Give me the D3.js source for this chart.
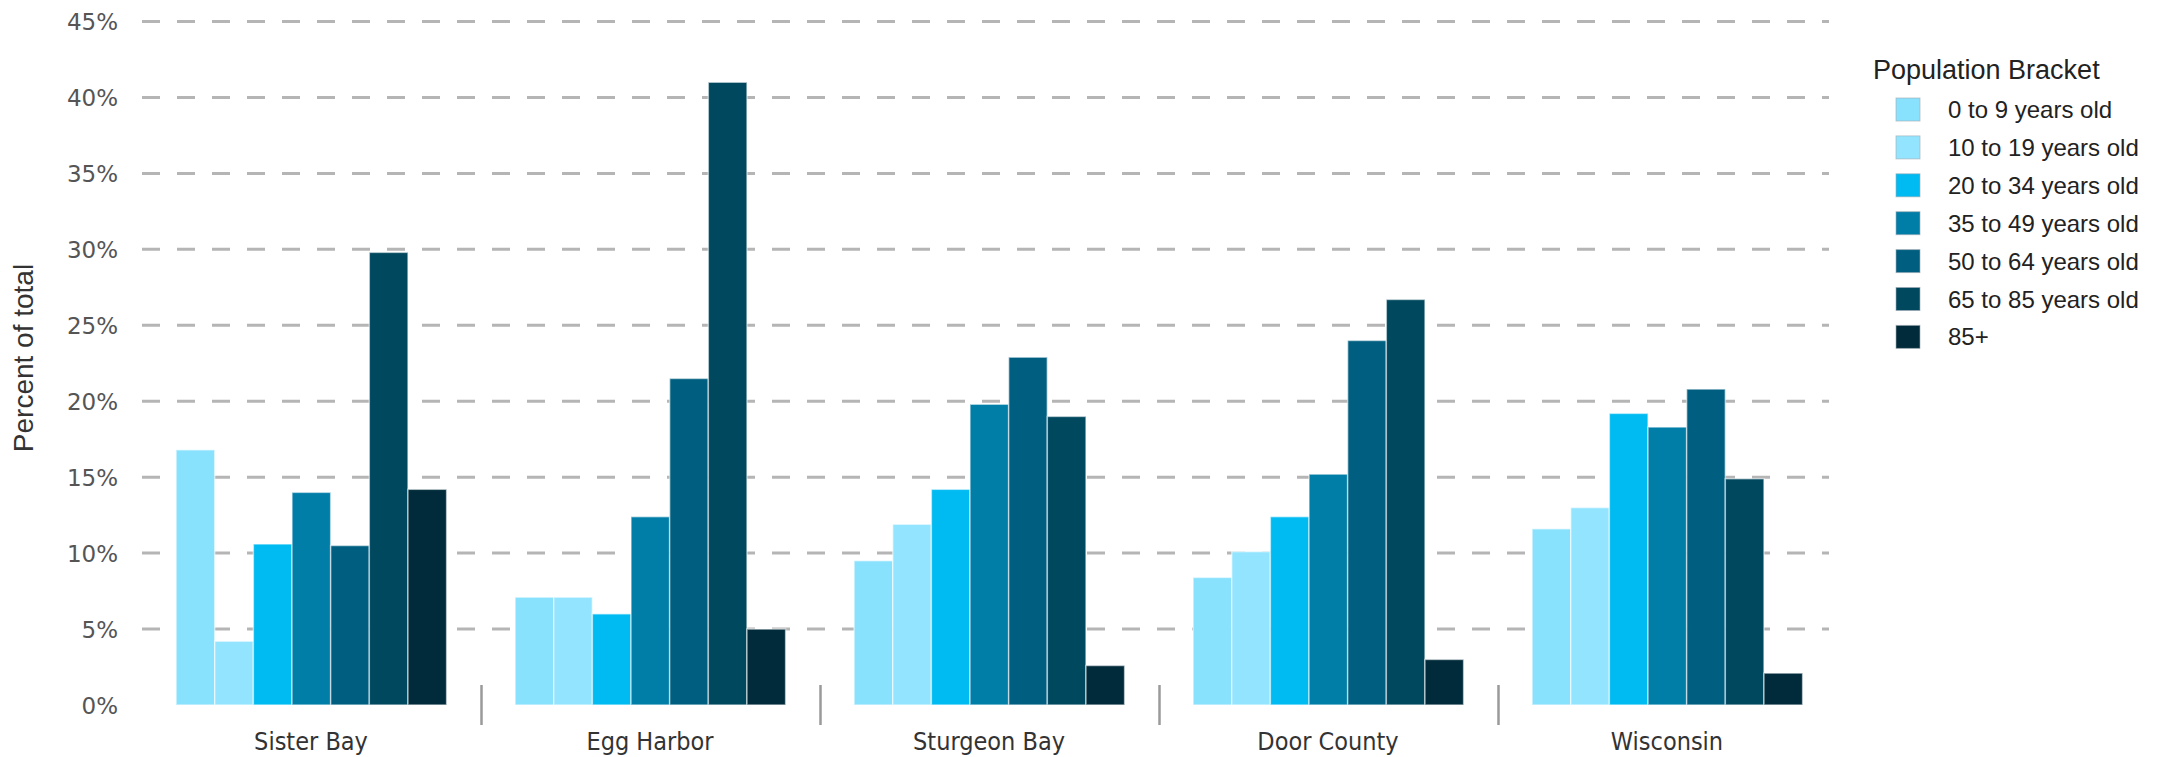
<!DOCTYPE html>
<html>
<head>
<meta charset="utf-8">
<script src="https://cdn.jsdelivr.net/npm/d3@7"></script>
<style>
  html, body { margin: 0; padding: 0; background: #fff; }
  svg { display: block; }
</style>
</head>
<body>
<svg id="chart" width="2164" height="757"></svg>
<script>
// Age distribution (percent of total population) by place
const categories = ["Sister Bay", "Egg Harbor", "Sturgeon Bay", "Door County", "Wisconsin"];
const brackets = ["0 to 9 years old", "10 to 19 years old", "20 to 34 years old",
                  "35 to 49 years old", "50 to 64 years old", "65 to 85 years old", "85+"];
const bracketColors = ["#88E1FD", "#93E5FF", "#00BBF2", "#007EA8", "#005F80", "#00485E", "#012B3A"];

const sisterBay   = [16.8, 4.2, 10.6, 14.0, 10.5, 29.8, 14.2];
const eggHarbor   = [7.1, 7.1, 6.0, 12.4, 21.5, 41.0, 5.0];
const sturgeonBay = [9.5, 11.9, 14.2, 19.8, 22.9, 19.0, 2.6];
const doorCounty  = [8.4, 10.1, 12.4, 15.2, 24.0, 26.7, 3.0];
const wisconsin   = [11.6, 13.0, 19.2, 18.3, 20.8, 14.9, 2.1];

const yTicks = [0, 5, 10, 15, 20, 25, 30, 35, 40, 45];
const yTickLabels = ["0%", "5%", "10%", "15%", "20%", "25%", "30%", "35%", "40%", "45%"];
const yTitle = "Percent of total";
const legendTitle = "Population Bracket";

const seriesByCategory = [sisterBay, eggHarbor, sturgeonBay, doorCounty, wisconsin];

const svg = d3.select("#chart");

const plot = { left: 141.5, right: 1836.5, top: 21.5, bottom: 705 };

const x0 = d3.scaleBand().domain(categories).range([plot.left, plot.right]).padding(0);
const x1 = d3.scaleBand().domain(brackets)
  .range([x0.bandwidth() * 0.102, x0.bandwidth() * 0.9]).padding(0);
const y = d3.scaleLinear().domain([0, 45]).range([plot.bottom, plot.top]);
const color = d3.scaleOrdinal().domain(brackets).range(bracketColors);

// dashed horizontal gridlines
svg.append("g")
  .selectAll("line")
  .data(yTicks.filter(t => t > 0))
  .join("line")
  .attr("x1", 142).attr("x2", 1829)
  .attr("y1", d => y(d)).attr("y2", d => y(d))
  .attr("stroke", "#b5b5b5")
  .attr("stroke-width", 3)
  .attr("stroke-dasharray", "18 17");

// y axis labels
const yAxis = d3.axisLeft(y)
  .tickValues(yTicks)
  .tickFormat((d, i) => yTickLabels[i])
  .tickSize(0)
  .tickPadding(0);
const gy = svg.append("g")
  .attr("transform", "translate(118,0)")
  .call(yAxis);
gy.select(".domain").remove();
gy.selectAll("text")
  .attr("font-family", "'DejaVu Sans', Verdana, sans-serif")
  .attr("font-size", 23)
  .attr("fill", "#555")
  .attr("dy", "0.36em");

// y axis title
svg.append("text")
  .attr("transform", "translate(33,358) rotate(-90)")
  .attr("text-anchor", "middle")
  .attr("font-family", "'Liberation Sans', Arial, sans-serif")
  .attr("font-size", 28)
  .attr("fill", "#333")
  .text(yTitle);

// category separators
svg.append("g")
  .selectAll("line")
  .data(categories.slice(1))
  .join("line")
  .attr("x1", d => Math.round(x0(d)) + 0.5)
  .attr("x2", d => Math.round(x0(d)) + 0.5)
  .attr("y1", 685).attr("y2", 725)
  .attr("stroke", "#9a9a9a")
  .attr("stroke-width", 2.5);

// category labels
const xAxis = d3.axisBottom(x0).tickSize(0).tickPadding(0);
const gx = svg.append("g")
  .attr("transform", "translate(0,750)")
  .call(xAxis);
gx.select(".domain").remove();
gx.selectAll("text")
  .attr("font-family", "'DejaVu Sans Condensed', 'DejaVu Sans', sans-serif")
  .attr("font-stretch", "condensed")
  .attr("font-size", 25)
  .attr("fill", "#333")
  .attr("dy", 0);

// bars
const groups = svg.append("g")
  .selectAll("g")
  .data(categories.map((c, i) => ({ category: c, values: seriesByCategory[i] })))
  .join("g")
  .attr("transform", d => `translate(${x0(d.category)},0)`);

groups.selectAll("rect")
  .data(d => d.values.map((v, j) => ({ bracket: brackets[j], value: v })))
  .join("rect")
  .attr("x", d => x1(d.bracket))
  .attr("y", d => y(d.value))
  .attr("width", x1.bandwidth())
  .attr("height", d => y(0) - y(d.value))
  .attr("fill", d => color(d.bracket))
  .attr("stroke", "rgba(255,255,255,0.55)")
  .attr("stroke-width", 1.5);

// legend
const legend = svg.append("g");
legend.append("text")
  .attr("x", 1873).attr("y", 79)
  .attr("font-family", "'Liberation Sans', Arial, sans-serif")
  .attr("font-size", 27)
  .attr("fill", "#222")
  .text(legendTitle);

const items = legend.selectAll("g.item")
  .data(brackets)
  .join("g")
  .attr("class", "item")
  .attr("transform", (d, i) => `translate(0,${98 + i * 37.9})`);

items.append("rect")
  .attr("x", 1896).attr("y", 0)
  .attr("width", 24).attr("height", 23)
  .attr("fill", d => color(d))
  .attr("stroke", "rgba(160,170,180,0.6)")
  .attr("stroke-width", 1);

items.append("text")
  .attr("x", 1948).attr("y", 20)
  .attr("font-family", "'Liberation Sans', Arial, sans-serif")
  .attr("font-size", 24)
  .attr("fill", "#222")
  .text(d => d);
</script>
</body>
</html>
